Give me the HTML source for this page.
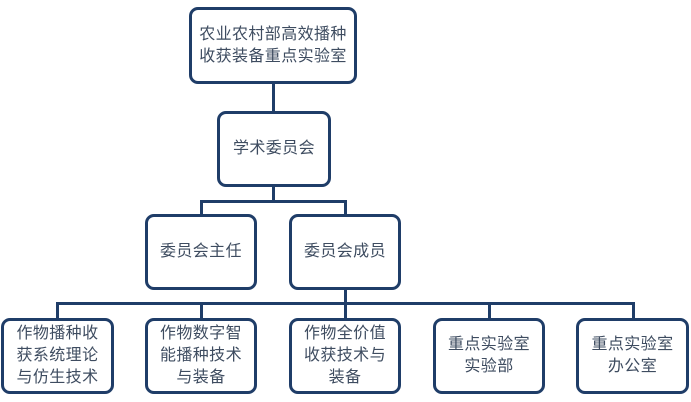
<!DOCTYPE html>
<html>
<head>
<meta charset="utf-8">
<style>
  html,body{margin:0;padding:0;background:#fff;}
  body{width:691px;height:402px;position:relative;overflow:hidden;
       font-family:"Liberation Sans","Noto Sans CJK SC",sans-serif;}
  .b{position:absolute;box-sizing:border-box;border:3px solid #1f3d68;border-radius:9px;background:#fff;
     display:flex;align-items:center;justify-content:center;text-align:center;
     font-size:16px;line-height:22px;color:#3e4c60;letter-spacing:0.4px;}
  .l{position:absolute;background:#1f3d68;}
</style>
</head>
<body>
<!-- connectors -->
<div class="l" style="left:272px;top:83px;width:3px;height:30px;"></div>
<div class="l" style="left:272px;top:185px;width:3px;height:17px;"></div>
<div class="l" style="left:200px;top:200px;width:147px;height:3px;"></div>
<div class="l" style="left:200px;top:200px;width:3px;height:16px;"></div>
<div class="l" style="left:344px;top:200px;width:3px;height:16px;"></div>
<div class="l" style="left:344px;top:288px;width:3px;height:32px;"></div>
<div class="l" style="left:56px;top:302px;width:579px;height:3px;"></div>
<div class="l" style="left:56px;top:302px;width:3px;height:18px;"></div>
<div class="l" style="left:200px;top:302px;width:3px;height:18px;"></div>
<div class="l" style="left:488px;top:302px;width:3px;height:18px;"></div>
<div class="l" style="left:632px;top:302px;width:3px;height:18px;"></div>

<!-- boxes -->
<div class="b" style="left:189px;top:7px;width:168px;height:77px;">农业农村部高效播种<br>收获装备重点实验室</div>
<div class="b" style="left:217px;top:111px;width:114px;height:76px;">学术委员会</div>
<div class="b" style="left:145px;top:214px;width:112px;height:76px;">委员会主任</div>
<div class="b" style="left:289px;top:214px;width:112px;height:76px;">委员会成员</div>

<div class="b" style="left:1px;top:318px;width:113px;height:76px;">作物播种收<br>获系统理论<br>与仿生技术</div>
<div class="b" style="left:145px;top:318px;width:112px;height:76px;">作物数字智<br>能播种技术<br>与装备</div>
<div class="b" style="left:289px;top:318px;width:112px;height:76px;">作物全价值<br>收获技术与<br>装备</div>
<div class="b" style="left:433px;top:318px;width:112px;height:76px;">重点实验室<br>实验部</div>
<div class="b" style="left:576px;top:318px;width:113px;height:76px;">重点实验室<br>办公室</div>
</body>
</html>
